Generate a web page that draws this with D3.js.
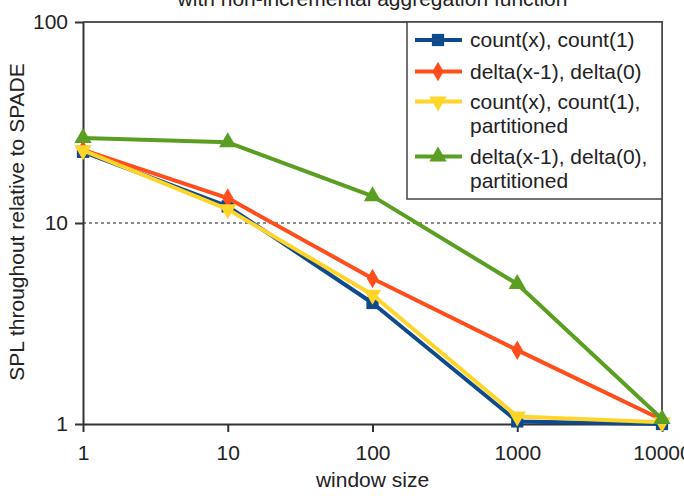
<!DOCTYPE html>
<html>
<head>
<meta charset="utf-8">
<script src="https://cdn.jsdelivr.net/npm/d3@7"></script>
<style>
  body { margin: 0; background: #fff; }
  text { font-family: "Liberation Sans", Arial, sans-serif; fill: #222; }
</style>
</head>
<body>
<div id="chart-area"></div>
<script>
// window sizes (x axis)
let windowSizes = [1, 10, 100, 1000, 10000];

// series values
let countValues = [22.6, 12.1, 4.0, 1.03, 1.0];
let deltaValues = [23.1, 13.3, 5.3, 2.33, 1.05];
let countPartValues = [23.0, 11.7, 4.4, 1.09, 1.02];
let deltaPartValues = [26.5, 25.2, 13.6, 4.97, 1.06];

let seriesNames = ["count(x), count(1)", "delta(x-1), delta(0)",
    "count(x), count(1),|partitioned", "delta(x-1), delta(0),|partitioned"];

let xTicks = [1, 10, 100, 1000, 10000];
let yTicks = [1, 10, 100];

let svgWidth = 684, svgHeight = 496;
let margin = {left: 83, right: 22, top: 22, bottom: 72};

let svg = d3.select("#chart-area")
    .append("svg")
    .attr("width", svgWidth)
    .attr("height", svgHeight);

let x = d3.scaleLog()
    .domain([1, 10000])
    .range([margin.left, svgWidth - margin.right]);

let y = d3.scaleLog()
    .domain([1, 100])
    .range([svgHeight - margin.bottom, margin.top]);

let series = [
    {name: seriesNames[0], values: countValues, color: "#0f4a8c", symbol: d3.symbolSquare, size: 150, rot: 0},
    {name: seriesNames[1], values: deltaValues, color: "#ff4e1c", symbol: d3.symbolDiamond, size: 110, rot: 0},
    {name: seriesNames[2], values: countPartValues, color: "#ffd52a", symbol: d3.symbolTriangle, size: 130, rot: 180},
    {name: seriesNames[3], values: deltaPartValues, color: "#5a9e22", symbol: d3.symbolTriangle, size: 130, rot: 0}
];

// title (cut off at top)
svg.append("text")
    .attr("x", (x(1) + x(10000)) / 2)
    .attr("y", 6)
    .attr("text-anchor", "middle")
    .attr("font-size", "21px")
    .text("with non-incremental aggregation function");

// dotted gridline at 10
svg.append("line")
    .attr("x1", x(1)).attr("x2", x(10000))
    .attr("y1", y(10)).attr("y2", y(10))
    .attr("stroke", "#666")
    .attr("stroke-width", 1.5)
    .attr("stroke-dasharray", "3,3");

// frame top and right
svg.append("path")
    .attr("d", "M" + x(1) + "," + y(100) + "H" + x(10000) + "V" + y(1))
    .attr("fill", "none")
    .attr("stroke", "#555")
    .attr("stroke-width", 2);

// x axis
let xAxis = d3.axisBottom(x)
    .tickValues(xTicks)
    .tickFormat(d3.format("d"))
    .tickSizeInner(8)
    .tickSizeOuter(0)
    .tickPadding(13);

let xAxisGroup = svg.append("g")
    .attr("transform", "translate(0," + y(1) + ")")
    .call(xAxis);

// y axis
let yAxis = d3.axisLeft(y)
    .tickValues(yTicks)
    .tickFormat(d3.format("d"))
    .tickSizeInner(8)
    .tickSizeOuter(0)
    .tickPadding(7);

let yAxisGroup = svg.append("g")
    .attr("transform", "translate(" + x(1) + ",0)")
    .call(yAxis);

[xAxisGroup, yAxisGroup].forEach(function(g){
    g.select(".domain").attr("stroke", "#333").attr("stroke-width", 2);
    g.selectAll(".tick line").attr("stroke", "#333").attr("stroke-width", 2);
    g.selectAll(".tick text")
        .attr("font-size", "21px")
        .attr("font-family", "Liberation Sans, Arial, sans-serif")
        .attr("fill", "#222");
});

// axis labels
svg.append("text")
    .attr("x", (x(1) + x(10000)) / 2)
    .attr("y", 487)
    .attr("text-anchor", "middle")
    .attr("font-size", "21px")
    .text("window size");

svg.append("text")
    .attr("transform", "rotate(-90)")
    .attr("x", -222)
    .attr("y", 24)
    .attr("text-anchor", "middle")
    .attr("font-size", "21px")
    .text("SPL throughout relative to SPADE");

// lines
let line = d3.line()
    .x(function(d, i){ return x(windowSizes[i]); })
    .y(function(d){ return y(d); });

series.forEach(function(s){
    svg.append("path")
        .datum(s.values)
        .attr("d", line)
        .attr("fill", "none")
        .attr("stroke", s.color)
        .attr("stroke-width", 4)
        .attr("stroke-linejoin", "round");

    svg.selectAll(null)
        .data(s.values)
        .enter()
        .append("path")
        .attr("d", d3.symbol().type(s.symbol).size(s.size))
        .attr("transform", function(d, i){
            return "translate(" + x(windowSizes[i]) + "," + y(d) + ") rotate(" + s.rot + ")";
        })
        .attr("fill", s.color);
});

// legend
let legend = svg.append("g");

legend.append("rect")
    .attr("x", 407)
    .attr("y", 22)
    .attr("width", 662 - 407)
    .attr("height", 199 - 22)
    .attr("fill", "#fff")
    .attr("stroke", "#444")
    .attr("stroke-width", 1.5);

let rowY = [40, 71.5, 101.5, 156.5];

series.forEach(function(s, i){
    let ry = rowY[i];
    legend.append("line")
        .attr("x1", 415).attr("x2", 462)
        .attr("y1", ry).attr("y2", ry)
        .attr("stroke", s.color)
        .attr("stroke-width", 4);
    legend.append("path")
        .attr("d", d3.symbol().type(s.symbol).size(s.size))
        .attr("transform", "translate(438," + ry + ") rotate(" + s.rot + ")")
        .attr("fill", s.color);
    let lines = s.name.split("|");
    let txt = legend.append("text")
        .attr("x", 470)
        .attr("y", ry + 7)
        .attr("font-size", "21px");
    lines.forEach(function(l, j){
        txt.append("tspan")
            .attr("x", 470)
            .attr("dy", j == 0 ? 0 : 24.5)
            .text(l);
    });
});
</script>
</body>
</html>
